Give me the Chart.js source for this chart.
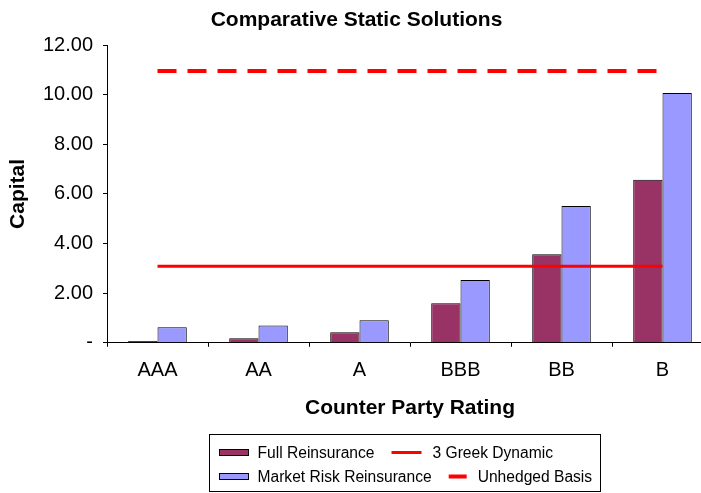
<!DOCTYPE html>
<html>
<head>
<meta charset="utf-8">
<title>Comparative Static Solutions</title>
<script src="https://cdn.jsdelivr.net/npm/chart.js@4.4.1/dist/chart.umd.min.js"></script>
<style>
  html, body { margin: 0; padding: 0; background: #fff; overflow: hidden; }
  canvas { display: block; }
</style>
</head>
<body>
<canvas id="chart" width="812" height="493"></canvas>
<script>
// Values.
const ratings = ['AAA', 'AA', 'A', 'BBB', 'BB', 'B'];
const fullReinsurance = [0.07, 0.18, 0.43, 1.59, 3.57, 6.57];
const marketRiskReinsurance = [0.63, 0.70, 0.91, 2.53, 5.51, 10.07];
const greekDynamic = [3.08, 3.08, 3.08, 3.08, 3.08, 3.08];
const unhedgedBasis = [10.95, 10.95, 10.95, 10.95, 10.95, 10.95];

const FONT = '"Liberation Sans", Arial, Helvetica, sans-serif';

// Excel-style boxed legend, two rows that flow left to right.
const boxLegend = {
  id: 'boxLegend',
  afterDraw(chart) {
    const ctx = chart.ctx;
    const ds = chart.data.datasets;
    const rows = [[0, 2], [1, 3]];
    const sample = d => d.type === 'line' ? (d.borderDash ? 18 : 30) : 29;
    const gap = d => d.type === 'line' ? 11 : 9;

    ctx.save();
    ctx.font = '15.6px ' + FONT;
    const widths = rows.map(r => r.reduce((w, i, k) =>
      w + (k ? 17 : 0) + sample(ds[i]) + gap(ds[i]) + ctx.measureText(ds[i].label).width, 0));
    const w = Math.round(10 + Math.max(...widths) + 8);
    const left = Math.round((chart.width - w) / 2) - 1.5;
    const top = chart.height - 59 + 0.5;

    ctx.strokeStyle = '#000';
    ctx.lineWidth = 1;
    ctx.strokeRect(left, top, w, 57);

    rows.forEach((r, ri) => {
      const y = top + 18 + ri * 24;
      let x = left + 10;
      r.forEach(i => {
        const d = ds[i];
        if (d.type === 'line') {
          ctx.save();
          ctx.strokeStyle = d.borderColor;
          ctx.lineWidth = d.borderWidth;
          ctx.setLineDash(d.borderDash || []);
          ctx.beginPath();
          ctx.moveTo(x, y);
          ctx.lineTo(x + sample(d), y);
          ctx.stroke();
          ctx.restore();
        } else {
          ctx.fillStyle = d.backgroundColor;
          ctx.fillRect(x, y - 3, 29, 6);
          ctx.strokeStyle = '#000';
          ctx.lineWidth = 1;
          ctx.strokeRect(x, y - 3, 29, 6);
        }
        x += sample(d) + gap(d);
        ctx.fillStyle = '#000';
        ctx.textAlign = 'left';
        ctx.textBaseline = 'middle';
        ctx.fillText(d.label, x, y + 1);
        x += ctx.measureText(d.label).width + 17;
      });
    });
    ctx.restore();
  }
};

new Chart(document.getElementById('chart').getContext('2d'), {
  type: 'bar',
  data: {
    labels: ratings,
    datasets: [
      {
        type: 'bar',
        label: 'Full Reinsurance',
        data: fullReinsurance,
        backgroundColor: '#993366',
        borderColor: '#000',
        borderWidth: 1,
        categoryPercentage: 0.58,
        barPercentage: 1.0,
        order: 2
      },
      {
        type: 'bar',
        label: 'Market Risk Reinsurance',
        data: marketRiskReinsurance,
        backgroundColor: '#9999ff',
        borderColor: '#000',
        borderWidth: 1,
        categoryPercentage: 0.58,
        barPercentage: 1.0,
        order: 2
      },
      {
        type: 'line',
        label: '3 Greek Dynamic',
        data: greekDynamic,
        borderColor: '#ff0000',
        borderWidth: 3,
        pointRadius: 0,
        fill: false,
        order: 1
      },
      {
        type: 'line',
        label: 'Unhedged Basis',
        data: unhedgedBasis,
        borderColor: '#ff0000',
        borderWidth: 4,
        borderDash: [19, 11],
        pointRadius: 0,
        fill: false,
        order: 1
      }
    ]
  },
  options: {
    responsive: false,
    animation: false,
    layout: { padding: { left: 0, right: 99, top: 0, bottom: 68 } },
    scales: {
      x: {
        offset: true,
        grid: { display: true, drawOnChartArea: false, offset: true, tickLength: 4, color: '#000' },
        border: { display: true, color: '#000', width: 1 },
        ticks: { color: '#000', font: { family: FONT, size: 20 }, padding: 12, maxRotation: 0, autoSkip: false },
        title: {
          display: true,
          text: 'Counter Party Rating',
          color: '#000',
          font: { family: FONT, size: 21, weight: 'bold' },
          padding: { top: 1, bottom: 4 }
        }
      },
      y: {
        min: 0,
        max: 12,
        grid: { display: true, drawOnChartArea: false, tickLength: 4, color: '#000' },
        border: { display: true, color: '#000', width: 1 },
        ticks: {
          stepSize: 2,
          color: '#000',
          padding: 10,
          font: { family: FONT, size: 20 },
          callback: v => v === 0 ? '-' : v.toFixed(2)
        },
        title: {
          display: true,
          text: 'Capital',
          color: '#000',
          font: { family: FONT, size: 21, weight: 'bold' },
          padding: { top: 6, bottom: 0 }
        },
        afterFit: scale => { scale.width = 107; }
      }
    },
    plugins: {
      legend: { display: false },
      tooltip: { enabled: false },
      title: {
        display: true,
        text: 'Comparative Static Solutions',
        color: '#000',
        font: { family: FONT, size: 21, weight: 'bold' },
        padding: { top: 8, bottom: 11.8 }
      }
    }
  },
  plugins: [boxLegend]
});
</script>
</body>
</html>
